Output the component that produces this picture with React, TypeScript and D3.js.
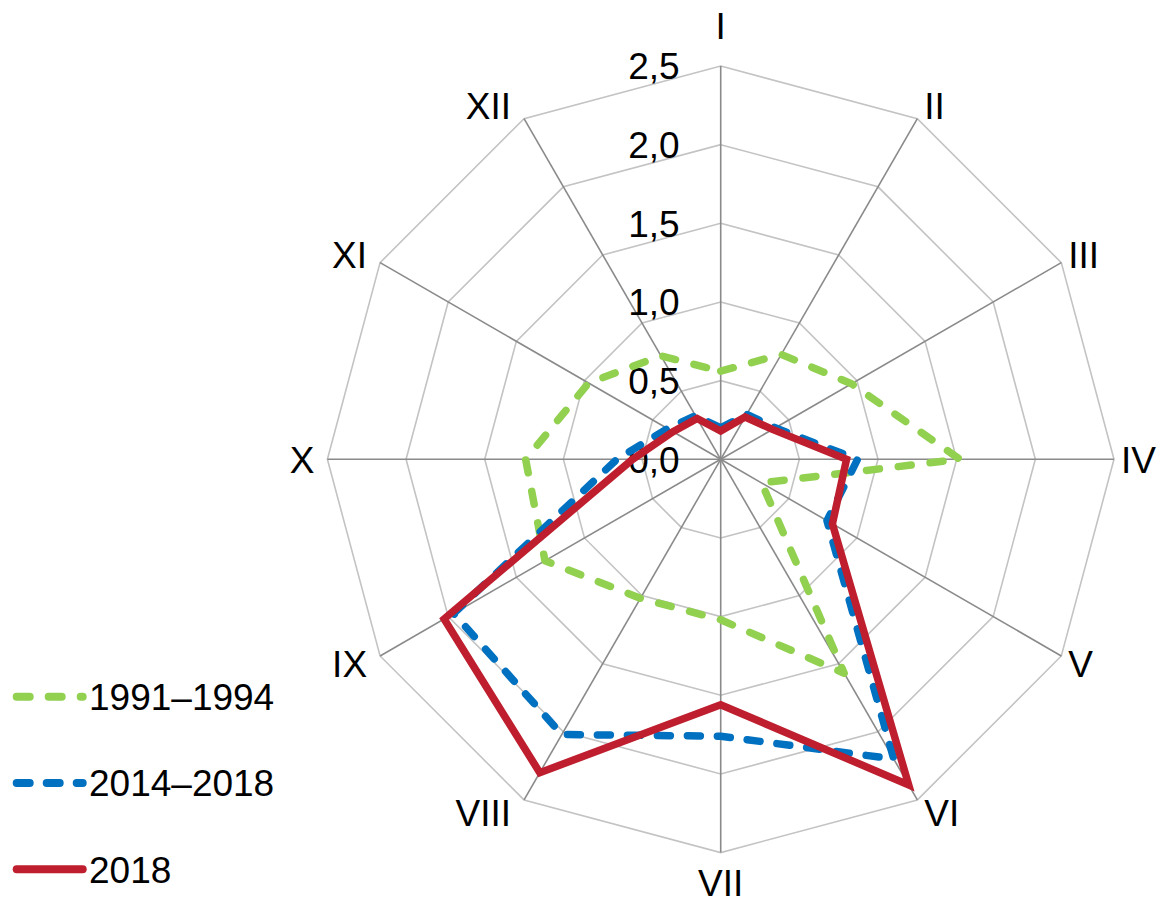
import React from "react";
import * as d3 from "d3";

const months = ["I", "II", "III", "IV", "V", "VI", "VII", "VIII", "IX", "X", "XI", "XII"];
const series1991 = [0.56, 0.77, 0.96, 1.52, 0.3, 1.57, 1.02, 1.02, 1.29, 1.24, 0.97, 0.76];
const series2014 = [0.2, 0.33, 0.4, 0.87, 0.78, 2.2, 1.76, 2.02, 1.96, 0.66, 0.39, 0.32];
const series2018 = [0.18, 0.31, 0.38, 0.8, 0.82, 2.39, 1.56, 2.3, 2.03, 0.56, 0.35, 0.3];
const seriesNames = ["1991–1994", "2014–2018", "2018"];
const tickValues = [0, 0.5, 1.0, 1.5, 2.0, 2.5];

const W = 1164;
const H = 905;
const CX = 720.7;
const CY = 459.3;
const R = 393.3;
const FONT = "'Liberation Sans', Arial, sans-serif";
const FS = 37;

const seriesStyles = [
  { color: "#92d050", dash: "13 19" },
  { color: "#0070c0", dash: "13 17" },
  { color: "#be1e2d", dash: null as string | null },
];

export default function App() {
  const r = d3.scaleLinear().domain([0, 2.5]).range([0, R]);
  const angle = d3
    .scaleLinear()
    .domain([0, months.length])
    .range([0, 2 * Math.PI]);

  const pt = (i: number, v: number): [number, number] => {
    const a = angle(i);
    return [CX + r(v) * Math.sin(a), CY - r(v) * Math.cos(a)];
  };

  const radial = d3
    .lineRadial<number>()
    .angle((_d, i) => angle(i))
    .radius((d) => r(d))
    .curve(d3.curveLinearClosed);

  const allSeries = [series1991, series2014, series2018];
  const fmt = (v: number) => v.toFixed(1).replace(".", ",");

  return (
    <svg
      width={W}
      height={H}
      style={{ position: "absolute", left: 0, top: 0, background: "#fff" }}
      fontFamily={FONT}
    >
      {tickValues.slice(1).map((t) => (
        <polygon
          key={"ring" + t}
          points={months.map((_, i) => pt(i, t).join(",")).join(" ")}
          fill="none"
          stroke="#c3c3c3"
          strokeWidth={1.6}
        />
      ))}
      {months.map((_, i) => {
        const [x, y] = pt(i, 2.5);
        return (
          <line
            key={"spoke" + i}
            x1={CX}
            y1={CY}
            x2={x}
            y2={y}
            stroke="#8a8a8a"
            strokeWidth={1.6}
          />
        );
      })}
      {tickValues.map((t) => (
        <text
          key={"tick" + t}
          x={CX - 41}
          y={CY - r(t)}
          dy="0.36em"
          textAnchor="end"
          fontSize={FS}
          fill="#000"
        >
          {fmt(t)}
        </text>
      ))}
      {allSeries.map((s, k) => (
        <path
          key={"s" + k}
          d={radial(s) as string}
          transform={`translate(${CX},${CY})`}
          fill="none"
          stroke={seriesStyles[k].color}
          strokeWidth={7.5}
          strokeDasharray={seriesStyles[k].dash ?? undefined}
          strokeLinecap={seriesStyles[k].dash ? "round" : "butt"}
          strokeLinejoin={seriesStyles[k].dash ? "round" : "miter"}
        />
      ))}
      {months.map((m, i) => {
        const a = angle(i);
        const [vx, vy] = pt(i, 2.5);
        const s = Math.sin(a);
        const c = Math.cos(a);
        let anchor: "start" | "end" | "middle" = "middle";
        let x = vx;
        if (s > 0.1) {
          anchor = "start";
          x = vx + 7;
        } else if (s < -0.1) {
          anchor = "end";
          x = vx - 13;
        }
        let cy = vy - c * 15;
        if (Math.abs(s) <= 0.1) cy = c > 0 ? vy - 40 : vy + 30;
        return (
          <text
            key={"lab" + m}
            x={x}
            y={cy}
            dy="0.36em"
            textAnchor={anchor}
            fontSize={FS}
            fill="#000"
          >
            {m}
          </text>
        );
      })}
      {seriesNames.map((name, k) => {
        const y = 696.7 + k * 86.3;
        const st = seriesStyles[k];
        return (
          <g key={"leg" + k}>
            <line
              x1={16.7}
              x2={82.7}
              y1={y}
              y2={y}
              stroke={st.color}
              strokeWidth={8}
              strokeDasharray={st.dash ?? undefined}
              strokeLinecap="round"
            />
            <text x={89} y={y} dy="0.36em" fontSize={FS} fill="#000">
              {name}
            </text>
          </g>
        );
      })}
    </svg>
  );
}
